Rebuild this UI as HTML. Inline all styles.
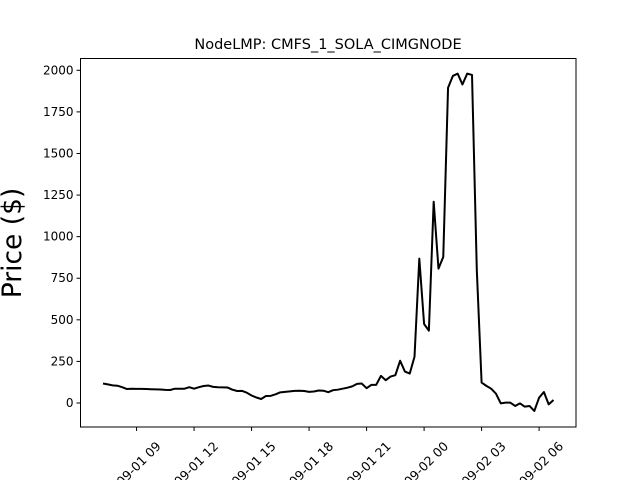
<!DOCTYPE html>
<html><head><meta charset="utf-8"><style>
html,body{margin:0;background:#fff;width:640px;height:480px;overflow:hidden}
svg{display:block;overflow:hidden}
svg text{font-family:"DejaVu Sans","Liberation Sans",sans-serif;fill:#000}
</style></head><body>
<svg id="chart" width="640" height="480" viewBox="0 0 640 480">
<rect x="0" y="0" width="640" height="480" fill="#fff"/>
<text x="328" y="49" font-size="14.5" text-anchor="middle">NodeLMP: CMFS_1_SOLA_CIMGNODE</text>
<text transform="translate(21,243) rotate(-90)" font-size="26.5" text-anchor="middle">Price ($)</text>
<g id="yticks"></g>
<g id="xticks"></g>
<path id="line" fill="none" stroke="#000" stroke-width="2" stroke-linejoin="round"/>
<rect x="80.5" y="58.5" width="495.5" height="368.5" fill="none" stroke="#000" stroke-width="1"/>
</svg>
<script>
// hours relative to 2022-09-01 09:00, 15-minute intervals starting 07:15
const startHour = -1.75;
const stepHours = 0.25;
const prices = [117,112,106,104,95,84,86,85,85,84,83,82,81,79,78,86,86,86,95,86,95,102,105,97,95,94,93,80,72,73,62,45,33,24,42,43,52,64,67,70,73,74,72,67,69,75,74,65,77,80,86,92,100,115,
117,89,109,109,163,137,159,167,254,189,177,278,868,475,435,1210,808,878,1895,1966,1980,1915,1980,1972,800,123,103,86,56,-2,2,2,-18,-2,-22,-18,-48,32,66,-8,18];
const yTicks = [0,250,500,750,1000,1250,1500,1750,2000];
const xTickHours = [0,3,6,9,12,15,18,21];
const xTickLabels = ["2022-09-01 09","2022-09-01 12","2022-09-01 15","2022-09-01 18","2022-09-01 21","2022-09-02 00","2022-09-02 03","2022-09-02 06"];

const ns = "http://www.w3.org/2000/svg";
const L = 80.5, R = 576, T = 58.5, B = 427;
const n = prices.length;
const h0 = startHour, h1 = startHour + (n - 1) * stepHours;
const pad = (h1 - h0) * 0.05;
const xmin = h0 - pad, xmax = h1 + pad;
function xs(h){ return L + (h - xmin) / (xmax - xmin) * (R - L); }
function ys(v){ return 403 - v * (403 - 70.3) / 2000; }

let d = "";
prices.forEach((v, i) => { d += (i ? "L" : "M") + xs(startHour + i * stepHours).toFixed(2) + "," + ys(v).toFixed(2); });
document.getElementById("line").setAttribute("d", d);

const yg = document.getElementById("yticks");
yTicks.forEach(v => {
  const y = ys(v);
  const ln = document.createElementNS(ns, "line");
  ln.setAttribute("x1", L - 4); ln.setAttribute("x2", L); ln.setAttribute("y1", y); ln.setAttribute("y2", y);
  ln.setAttribute("stroke", "#000");
  
  
  yg.appendChild(ln);
  const t = document.createElementNS(ns, "text");
  t.setAttribute("x", L - 7); t.setAttribute("y", y + 4); t.setAttribute("font-size", "12"); t.setAttribute("text-anchor", "end");
  t.textContent = v;
  
  
  yg.appendChild(t);
});

const xg = document.getElementById("xticks");
xTickHours.forEach((h, i) => {
  const x = xs(h);
  const ln = document.createElementNS(ns, "line");
  ln.setAttribute("x1", x); ln.setAttribute("x2", x); ln.setAttribute("y1", B); ln.setAttribute("y2", B + 4);
  ln.setAttribute("stroke", "#000");
  
  
  xg.appendChild(ln);
  const t = document.createElementNS(ns, "text");
  t.setAttribute("transform", "translate(" + (x + 25) + "," + (B + 20) + ") rotate(-45)");
  t.setAttribute("font-size", "12.5"); t.setAttribute("text-anchor", "end");
  t.textContent = xTickLabels[i];
  
  
  xg.appendChild(t);
});
</script>
</body></html>
